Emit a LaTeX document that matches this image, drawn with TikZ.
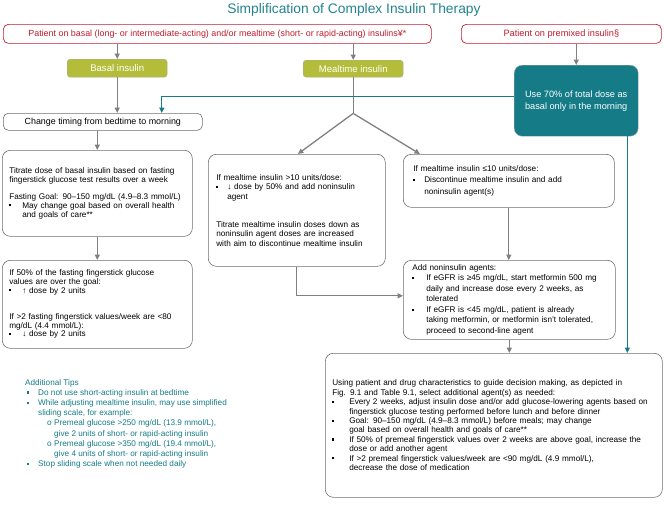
\documentclass[tikz,border=0pt]{standalone}
\usepackage{fontspec}
\setmainfont{Liberation Sans}
\usepackage{tikz}
\usetikzlibrary{arrows.meta}

\definecolor{tealc}{HTML}{147B87}
\definecolor{titlec}{HTML}{23838F}
\definecolor{olivec}{HTML}{B4BD39}
\definecolor{redc}{HTML}{C41A2B}
\definecolor{grayc}{HTML}{808080}
\definecolor{edgec}{HTML}{6F6F6F}

% bullet lines with hanging indent
\newcommand{\bul}[2][11pt]{\makebox[#1][l]{\raisebox{1.8pt}{\rule{2.1pt}{2.1pt}}}#2}
\newcommand{\bulc}[2][11pt]{\hspace*{#1}#2}

\begin{document}
\begin{tikzpicture}[x=1pt, y=-1pt,
    box/.style={draw=edgec, line width=0.6pt, rounded corners=8pt, align=left,
        inner xsep=8pt, inner ysep=0pt, anchor=north west,
        font=\fontsize{8.2}{8.8}\selectfont},
    redbox/.style={draw=redc, line width=0.7pt, rounded corners=5pt, text=redc,
        anchor=north west, inner sep=0pt, font=\fontsize{9.2}{10}\selectfont},
    greenbox/.style={fill=olivec, draw=edgec!60, line width=0.4pt, rounded corners=3pt,
        text=white, anchor=north west, inner sep=0pt, font=\fontsize{9.6}{10}\selectfont},
    tealbox/.style={fill=tealc, draw=edgec!60, line width=0.4pt, rounded corners=8pt,
        text=white, anchor=north west, inner sep=0pt, align=center,
        font=\fontsize{9.2}{12}\selectfont},
    grayline/.style={draw=grayc, line width=1.3pt},
    arr/.style={grayline, -{Triangle[length=5.5pt, width=5pt]}},
    tealarr/.style={draw=tealc, line width=1.3pt, -{Triangle[length=5.5pt, width=5pt]}},
  ]
  \useasboundingbox (0, 0) rectangle (664, 504);

  % title and starting points
  \node (title) at (354, 10) [font=\fontsize{13.8}{15}\selectfont, text=titlec] {Simplification of Complex Insulin Therapy};
  \node (mixed) at (3, 24) [redbox, minimum width=428pt, minimum height=19pt, font=\fontsize{8.9}{10}\selectfont] {Patient on basal (long- or intermediate-acting) and/or mealtime (short- or rapid-acting) insulins¥*};
  \node (premix) at (461, 24) [redbox, minimum width=200pt, minimum height=19pt] {Patient on premixed insulin§};

  % insulin type
  \node (basal) at (67, 59) [greenbox, minimum width=100pt, minimum height=18pt] {Basal insulin};
  \node (mealtime) at (303, 60) [greenbox, minimum width=100pt, minimum height=17pt] {Mealtime insulin};
  \node (seventy) at (514, 65) [tealbox, minimum width=124pt, minimum height=71pt] {Use 70\% of total dose as\\basal only in the morning};

  % basal branch
  \node (timing) at (3, 113) [box, align=center, rounded corners=5pt, minimum width=199pt, minimum height=17pt, font=\fontsize{8.9}{10}\selectfont] {Change timing from bedtime to morning};
  \node (titrate) at (2, 150) [box, inner xsep=7pt, text width=176pt, minimum height=86pt] {Titrate dose of basal insulin based on fasting\\
    fingerstick glucose test results over a week\\[8pt]
    Fasting Goal: 90–150 mg/dL (4.9–8.3 mmol/L)\\
    \bul[13pt]{May change goal based on overall health}\\
    \bulc[13pt]{and goals of care**}};
  \node (overgoal) at (2, 260) [box, inner xsep=7pt, text width=176pt, minimum height=88pt, font=\fontsize{8.2}{8.6}\selectfont] {If 50\% of the fasting fingerstick glucose\\
    values are over the goal:\\
    \bul[13pt]{↑ dose by 2 units}\\[18pt]
    If >2 fasting fingerstick values/week are <80\\
    mg/dL (4.4 mmol/L):\\
    \bul[13pt]{↓ dose by 2 units}};

  % mealtime branch
  \node (bigdose) at (208, 154) [box, text width=161pt, minimum height=112pt, font=\fontsize{8.2}{9.4}\selectfont] {If mealtime insulin >10 units/dose:\\
    \bul{↓ dose by 50\% and add noninsulin}\\
    \bulc{agent}\\[19pt]
    Titrate mealtime insulin doses down as\\
    noninsulin agent doses are increased\\
    with aim to discontinue mealtime insulin};
  \node (smalldose) at (403, 154) [box, inner xsep=10pt, text width=191pt, minimum height=53pt, font=\fontsize{8.2}{11.3}\selectfont] {If mealtime insulin ≤10 units/dose:\\
    \bul{Discontinue mealtime insulin and add}\\
    \bulc{noninsulin agent(s)}};
  \node (addagent) at (403, 260) [box, inner xsep=9pt, text width=194pt, minimum height=79pt, font=\fontsize{8.2}{10.5}\selectfont] {Add noninsulin agents:\\
    \bul[14pt]{If eGFR is ≥45 mg/dL, start metformin 500 mg}\\
    \bulc[14pt]{daily and increase dose every 2 weeks, as}\\
    \bulc[14pt]{tolerated}\\
    \bul[14pt]{If eGFR is <45 mg/dL, patient is already}\\
    \bulc[14pt]{taking metformin, or metformin isn't tolerated,}\\
    \bulc[14pt]{proceed to second-line agent}};
  \node (select) at (325, 353) [box, inner xsep=7pt, text width=323pt, minimum height=144pt, font=\fontsize{8.2}{9.4}\selectfont] {Using patient and drug characteristics to guide decision making, as depicted in\\
    Fig. 9.1 and Table 9.1, select additional agent(s) as needed:\\
    \bul[17pt]{Every 2 weeks, adjust insulin dose and/or add glucose-lowering agents based on}\\
    \bulc[17pt]{fingerstick glucose testing performed before lunch and before dinner}\\
    \bul[17pt]{Goal: 90–150 mg/dL (4.9–8.3 mmol/L) before meals; may change}\\
    \bulc[17pt]{goal based on overall health and goals of care**}\\
    \bul[17pt]{If 50\% of premeal fingerstick values over 2 weeks are above goal, increase the}\\
    \bulc[17pt]{dose or add another agent}\\
    \bul[17pt]{If >2 premeal fingerstick values/week are <90 mg/dL (4.9 mmol/L),}\\
    \bulc[17pt]{decrease the dose of medication}};

  % tips
  \node (tips) at (25, 379) [anchor=north west, align=left, inner sep=0pt, text=tealc, font=\fontsize{8.2}{10.2}\selectfont] {Additional Tips\\
    \hspace*{2pt}\bul{Do not use short-acting insulin at bedtime}\\
    \hspace*{2pt}\bul{While adjusting mealtime insulin, may use simplified}\\
    \hspace*{2pt}\bulc{sliding scale, for example:}\\
    \hspace*{22pt}\makebox[7pt][l]{o}Premeal glucose >250 mg/dL (13.9 mmol/L),\\
    \hspace*{29pt}give 2 units of short- or rapid-acting insulin\\
    \hspace*{22pt}\makebox[7pt][l]{o}Premeal glucose >350 mg/dL (19.4 mmol/L),\\
    \hspace*{29pt}give 4 units of short- or rapid-acting insulin\\
    \hspace*{2pt}\bul{Stop sliding scale when not needed daily}};

  % connectors
  \draw[arr] (basal.north |- mixed.south) -- (basal.north);
  \draw[arr] (mealtime.north |- mixed.south) -- (mealtime.north);
  \draw[arr] (seventy.north |- premix.south) -- (seventy.north);
  \draw[arr] (basal.south) -- (basal.south |- timing.north);
  \draw[arr] (titrate.north |- timing.south) -- (titrate.north);
  \draw[arr] (titrate.south) -- (overgoal.north);
  \coordinate (split) at ([yshift=-36pt]mealtime.south);
  \draw[grayline] (mealtime.south) -- (split);
  \draw[arr] (split) -- ([xshift=1pt]bigdose.north);
  \draw[arr] (split) -- ([xshift=17pt]smalldose.north west);
  \draw[arr] (bigdose.south) |- ([yshift=4pt]addagent.west);
  \draw[arr] (smalldose.south) -- (smalldose.south |- addagent.north);
  \draw[arr] (addagent.south) -- (addagent.south |- select.north);
  \draw[tealarr] ([yshift=4pt]seventy.west) -| ([xshift=59pt]timing.north);
  \draw[tealarr] ([xshift=-11pt]seventy.south east) -- ([xshift=-11pt]seventy.south east |- select.north);
\end{tikzpicture}
\end{document}
